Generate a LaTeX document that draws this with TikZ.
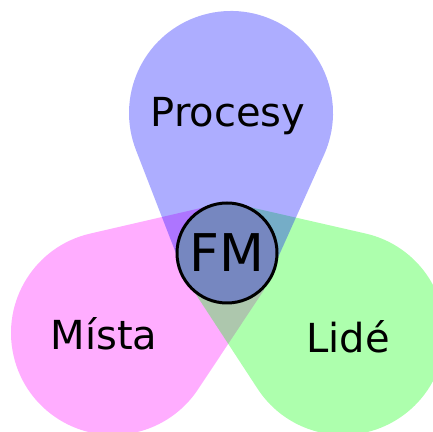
\documentclass[tikz,border=0pt]{standalone}
\usepackage{fontspec}
\setmainfont{DejaVu Sans}
\usetikzlibrary{calc}
\definecolor{fmblue}{RGB}{118,135,192}
\definecolor{petalpink}{RGB}{255,0,255}
\definecolor{petalgreen}{RGB}{0,255,0}
\definecolor{petalblue}{RGB}{0,0,255}
\tikzset{petal/.style={fill=#1,fill opacity=0.32}}
% one petal: centre, first entry, second entry, colour
\newcommand\petal[4]{%
  \fill[petal=#4] let \p1=($(#2)-(#1)$), \p2=($(#3)-(#1)$),
      \n1={atan2(\y1,\x1)+acos(51/veclen(\x1,\y1))},
      \n2={atan2(\y2,\x2)-acos(51/veclen(\x2,\y2))+360}
    in (#2) -- ($(#1)+(\n1:51pt)$) arc[start angle=\n1,end angle=\n2,radius=51pt]
       -- (#3) -- (mid) -- cycle;}

\begin{document}
\begin{tikzpicture}[x=0.5pt,y=0.5pt,
    word/.style={font=\fontsize{20}{22}\selectfont,anchor=base},
    hub/.style={circle,draw,line width=1.5pt,fill=fmblue,inner sep=0pt,
        minimum size=50pt,font=\fontsize{26}{28}\selectfont}]
    \useasboundingbox (0,0) rectangle (433,432);
    \clip (0,0) rectangle (433,432);

    \coordinate (mid) at (227,179);
    \coordinate (cb) at (231,319);
    \coordinate (cp) at (113,99);
    \coordinate (cg) at (343,99);

    \petal{cp}{214,227}{264,142}{petalpink}
    \petal{cg}{193,142}{245,226}{petalgreen}
    \petal{cb}{276,170}{177,176}{petalblue}

    \node[hub] (fm) at (mid) {FM};

    \node[word] (procesy) at (228,305) {Procesy};
    \node[word] (mista) at (104,82) {Místa};
    \node[word] (lide) at (348,79) {Lidé};
\end{tikzpicture}
\end{document}
